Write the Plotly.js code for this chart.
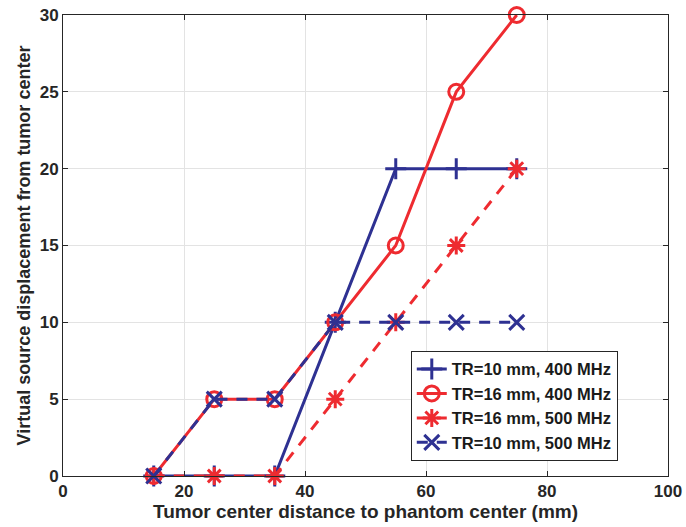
<!DOCTYPE html>
<html><head><meta charset="utf-8">
<script src="https://cdn.plot.ly/plotly-3.0.1.min.js"></script>
<style>body{margin:0;background:#fff}#c{width:686px;height:527px}</style>
</head><body><div id="c"></div>
<script>
const xDist = [15, 25, 35, 45, 55, 65, 75];
const tr10_400 = [0, 0, 0, 10, 20, 20, 20];
const tr16_400 = [0, 5, 5, 10, 15, 25, 30];
const tr16_500 = [0, 0, 0, 5, 10, 15, 20];
const tr10_500 = [0, 5, 5, 10, 10, 10, 10];
const names = ['TR=10 mm, 400 MHz', 'TR=16 mm, 400 MHz', 'TR=16 mm, 500 MHz', 'TR=10 mm, 500 MHz'];
const xTicks = [0, 20, 40, 60, 80, 100];
const yTicks = [0, 5, 10, 15, 20, 25, 30];

const blue = '#2E3192', red = '#EE2B30';
function tr(y, name, color, dash, sym) {
  return {x: xDist, y: y, name: name, type: 'scatter', mode: 'lines+markers', cliponaxis: false,
    line: {color: color, width: 3, dash: dash},
    marker: {symbol: sym, size: 15, color: color, line: {color: color, width: 3}}};
}
const data = [
  tr(tr10_400, names[0], blue, 'solid', 'cross-thin-open'),
  tr(tr16_400, names[1], red, 'solid', 'circle-open'),
  tr(tr16_500, names[2], red, '11px,9px', 'asterisk-open'),
  tr(tr10_500, names[3], blue, '11px,9px', 'x-thin-open')
];
const axisFont = {family: 'Liberation Sans, Arial, sans-serif', size: 17, color: '#262626', weight: 'bold'};
const layout = {
  width: 686, height: 527,
  margin: {l: 63, r: 18, t: 15, b: 51},
  paper_bgcolor: '#fff', plot_bgcolor: '#fff',
  font: {family: 'Liberation Sans, Arial, sans-serif', color: '#262626'},
  showlegend: true,
  legend: {x: 0.917, y: 0.033, xanchor: 'right', yanchor: 'bottom', bordercolor: '#262626', borderwidth: 1,
    bgcolor: '#fff', font: {size: 16.5, color: '#1a1a1a', weight: 'bold'}, tracegroupgap: 0},
  xaxis: {range: [0, 100], tickvals: xTicks, ticktext: xTicks.map(String), ticks: 'inside', ticklen: 5,
    tickcolor: '#262626', showline: true, linecolor: '#262626', linewidth: 1, mirror: 'ticks',
    showgrid: true, gridcolor: '#e3e3e3', zeroline: false, tickfont: axisFont,
    title: {text: 'Tumor center distance to phantom center (mm)', font: {size: 19, color: '#262626', weight: 'bold'}, standoff: 2}},
  yaxis: {range: [0, 30], tickvals: yTicks, ticktext: yTicks.map(String), ticks: 'inside', ticklen: 5,
    tickcolor: '#262626', showline: true, linecolor: '#262626', linewidth: 1, mirror: 'ticks',
    showgrid: true, gridcolor: '#e3e3e3', zeroline: false, tickfont: axisFont,
    title: {text: 'Virtual source displacement from tumor center', font: {size: 18, color: '#262626', weight: 'bold'}, standoff: 4}}
};
Plotly.newPlot('c', data, layout, {displayModeBar: false, staticPlot: true});
</script></body></html>
